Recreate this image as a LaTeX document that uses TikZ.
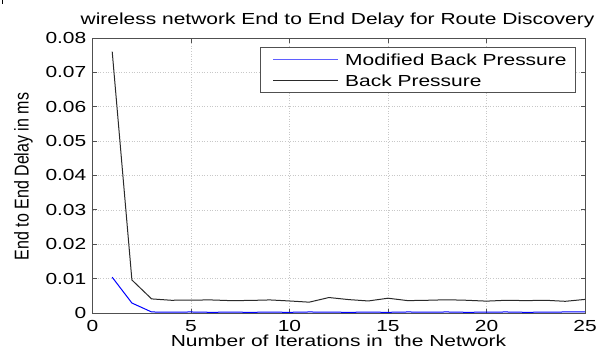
\documentclass[tikz,border=0pt]{standalone}
\usepackage{fontspec}
\usepackage{graphicx}
\setmainfont{Liberation Sans}
\newcommand\sxt[1]{\scalebox{1.31}[1]{#1}}
\newcommand\syt[1]{\scalebox{1}[1.25]{#1}}
\definecolor{axisgray}{HTML}{505050}
\definecolor{gridgray}{HTML}{C8C8C8}
\definecolor{bpline}{HTML}{2A2A2A}
\definecolor{legblue}{RGB}{95,95,255}
\begin{document}
\begin{tikzpicture}[x=1pt,y=-1pt,
  lbl/.style={inner sep=0pt,font=\fontsize{16}{18}\selectfont},
  gridline/.style={gridgray,dotted,line width=0.6pt},
  tickmark/.style={axisgray,line width=0.7pt},
  frame/.style={axisgray,line width=0.9pt},
  bpcurve/.style={bpline,line width=1pt,line join=round},
  mbpcurve/.style={blue,line width=1pt,line join=round},
  legmbp/.style={draw=legblue,line width=1.1pt},
  legbp/.style={draw=bpline,line width=1pt}]
\useasboundingbox[fill=white] (0,0) rectangle (603,356);
% small cropped mark in the corner
\fill[black] (1.5,0) rectangle (3,3.5);
% plot area
\coordinate (ll) at (92.5,313);
\coordinate (ur) at (585,38);
% grid
\foreach \i in {5,10,15,20} {
  \draw[gridline] ({92.5+19.7*\i},38) -- ({92.5+19.7*\i},313);
}
\foreach \j in {1,...,7} {
  \draw[gridline] (92.5,{313-34.4*\j}) -- (585,{313-34.4*\j});
}
% ticks
\foreach \i in {5,10,15,20} {
  \draw[tickmark] ({92.5+19.7*\i},313) -- ++(0,-4.5);
  \draw[tickmark] ({92.5+19.7*\i},38) -- ++(0,4.5);
}
\foreach \j in {1,...,7} {
  \draw[tickmark] (92.5,{313-34.4*\j}) -- ++(4.5,0);
  \draw[tickmark] (585,{313-34.4*\j}) -- ++(-4.5,0);
}
% tick labels
\foreach \i in {0,5,10,15,20,25} {
  \node[lbl] (xt\i) at ({92.5+19.7*\i},326) {\sxt{\i}};
}
\foreach \j/\t in {0/0,1/0.01,2/0.02,3/0.03,4/0.04,5/0.05,6/0.06,7/0.07,8/0.08} {
  \node[lbl,anchor=east] (yt\j) at (86.5,{313-34.4*\j}) {\sxt{\t}};
}
% data
\begin{scope}[shift={(92.5,313)},x=19.7pt,y=3.44pt]
\draw[mbpcurve] plot coordinates {(1,10.4) (2,2.9) (3,0.3) (4,0.25) (5,0.3) (6,0.2) (7,0.25) (8,0.2) (9,0.25) (10,0.2) (11,0.3) (12,0.25) (13,0.2) (14,0.25) (15,0.2) (16,0.3) (17,0.25) (18,0.3) (19,0.2) (20,0.25) (21,0.3) (22,0.2) (23,0.25) (24,0.3) (25,0.3)};
\draw[bpcurve] plot coordinates {(1,76) (2,9.6) (3,4.1) (4,3.7) (5,3.75) (6,3.8) (7,3.6) (8,3.65) (9,3.8) (10,3.5) (11,3.15) (12,4.5) (13,3.9) (14,3.5) (15,4.3) (16,3.6) (17,3.7) (18,3.85) (19,3.7) (20,3.45) (21,3.7) (22,3.6) (23,3.7) (24,3.4) (25,3.95)};
\end{scope}
% frame
\draw[frame] (ll) rectangle (ur);
% legend
\draw[frame,fill=white] (260.5,47.3) rectangle (575,92.3);
\coordinate (lb1) at (273,59.5);
\coordinate (lb2) at (338,59.5);
\coordinate (lk1) at (273,80);
\coordinate (lk2) at (338,80);
\path[legmbp] (lb1) -- (lb2);
\path[legbp] (lk1) -- (lk2);
\node[lbl,anchor=west] (leg1) at (345,60) {\sxt{Modified Back Pressure}};
\node[lbl,anchor=west] (leg2) at (345,80.5) {\sxt{Back Pressure}};
% title and axis labels
\node[lbl] (title) at (337.5,20.5) {\sxt{wireless network End to End Delay for Route Discovery}};
\node[lbl] (xlab) at (338.5,340.5) {\sxt{Number of Iterations in\ \ the Network}};
\node[lbl,rotate=90] (ylab) at (23.5,176.5) {\syt{End to End Delay in ms}};
\end{tikzpicture}
\end{document}
